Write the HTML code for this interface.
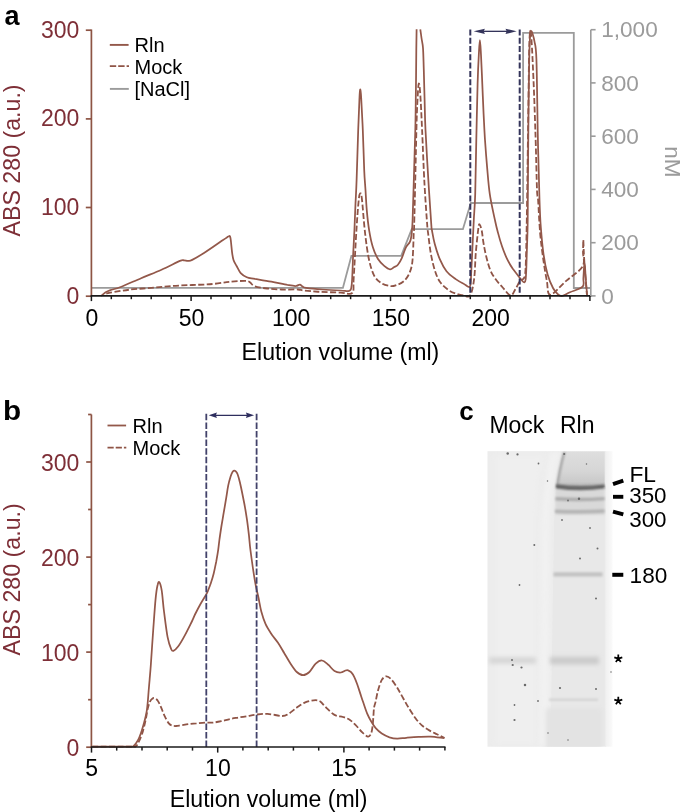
<!DOCTYPE html>
<html><head><meta charset="utf-8"><style>
html,body{margin:0;padding:0;background:#fff;width:685px;height:812px;overflow:hidden}
body{position:relative;font-family:"Liberation Sans", sans-serif}
</style></head><body>
<svg width="685" height="812" viewBox="0 0 685 812" style="position:absolute;left:0;top:0;will-change:transform">
<text x="4.5" y="24.5" font-family='"Liberation Sans", sans-serif' font-weight="bold" font-size="27" fill="#000">a</text>
<polyline points="91.4,287.9 342.9,287.9 351.4,255.9 401.2,255.9 411.7,229.2 462.9,229.2 470.8,203.0 523.1,203.0 523.1,32.8 573.8,32.8 573.8,288.0 590.8,288.0" fill="none" stroke="#9b9b9b" stroke-width="1.8" stroke-linejoin="miter"/>
<path d="M106.3,293.6 C107.0,293.4 106.3,293.3 110.4,292.6 C114.5,291.9 124.1,290.3 130.9,289.5 C137.7,288.7 144.5,288.5 151.3,287.9 C158.1,287.3 164.9,286.5 171.7,286.0 C178.5,285.5 185.4,285.3 192.2,285.0 C199.0,284.7 206.2,284.6 212.6,284.0 C219.0,283.4 224.9,282.2 230.4,281.7 C235.9,281.2 242.6,280.8 245.8,280.9 C249.1,281.0 248.4,281.4 249.9,282.3 C251.4,283.2 252.1,285.4 255.0,286.4 C257.9,287.4 262.8,288.0 267.2,288.5 C271.6,289.0 276.4,289.3 281.5,289.5 C286.6,289.7 294.1,289.3 297.9,289.5 C301.6,289.7 300.2,290.1 304.0,290.5 C307.8,290.9 314.3,291.5 320.4,291.9 C326.5,292.2 335.5,292.4 340.8,292.6 C346.1,292.8 350.2,295.3 352.3,292.9 C354.4,290.5 353.0,288.4 353.7,278.0 C354.4,267.6 355.6,243.0 356.4,230.6 C357.2,218.2 357.8,209.6 358.4,203.5 C359.0,197.4 359.2,195.0 359.8,194.1 C360.4,193.2 361.0,192.0 361.8,198.1 C362.6,204.2 363.7,220.7 364.8,230.6 C365.9,240.5 367.1,250.2 368.6,257.7 C370.1,265.1 371.8,271.0 374.0,275.3 C376.2,279.6 379.0,281.6 381.8,283.4 C384.6,285.2 388.4,285.8 390.9,286.1 C393.4,286.4 394.6,285.7 396.6,285.0 C398.6,284.3 401.1,283.4 403.1,281.8 C405.1,280.2 407.0,277.8 408.4,275.2 C409.8,272.6 410.9,269.7 411.7,266.0 C412.5,262.3 412.7,258.3 413.0,252.8 C413.3,247.3 413.5,238.6 413.7,233.1 C413.9,227.6 413.9,237.2 414.3,220.0 C414.8,202.8 415.9,150.0 416.4,130.0 C416.9,110.0 417.1,107.7 417.5,100.0 C417.9,92.3 418.3,84.4 418.8,83.6 C419.3,82.8 419.8,87.3 420.3,95.0 C420.9,102.7 421.4,115.1 422.1,130.0 C422.8,144.9 423.6,168.4 424.5,184.2 C425.4,200.0 426.6,216.7 427.2,224.8 C427.8,233.0 427.5,228.4 428.1,233.1 C428.7,237.8 429.6,246.7 430.7,252.8 C431.8,258.9 433.2,265.1 434.7,269.9 C436.2,274.7 437.7,278.5 439.9,281.8 C442.1,285.1 445.2,287.6 447.8,289.6 C450.4,291.6 453.1,292.6 455.7,293.6 C458.3,294.6 461.2,295.2 463.6,295.5 C466.0,295.8 468.4,298.2 470.1,295.5 C471.9,292.8 473.2,286.2 474.1,279.1 C475.1,272.0 475.1,261.3 475.8,252.8 C476.5,244.3 477.8,232.6 478.4,227.9 C479.0,223.2 479.1,224.2 479.7,224.6 C480.2,225.0 481.0,227.3 481.7,230.5 C482.4,233.7 482.8,239.3 483.6,243.7 C484.4,248.1 485.2,252.4 486.3,256.8 C487.4,261.2 488.7,266.2 490.2,269.9 C491.7,273.6 493.3,276.0 495.5,279.1 C497.7,282.2 500.9,285.6 503.4,288.3 C505.9,291.0 508.6,295.3 510.6,295.5 C512.6,295.7 513.6,292.1 515.2,289.6 C516.8,287.1 519.1,282.1 520.4,280.4 C521.7,278.6 522.2,280.8 523.1,279.1 C524.0,277.4 524.9,279.9 525.5,270.0 C526.1,260.1 526.4,242.5 526.8,220.0 C527.2,197.5 527.6,161.7 528.0,135.0 C528.4,108.3 528.7,77.2 529.0,60.0 C529.3,42.8 529.6,35.3 530.0,32.0 C530.4,28.7 530.9,32.0 531.5,40.0 C532.1,48.0 532.8,64.2 533.5,80.0 C534.2,95.8 534.9,116.7 535.5,135.0 C536.1,153.3 536.6,179.2 537.0,190.0 C537.4,200.8 537.6,192.7 538.1,200.0 C538.6,207.3 539.3,223.7 540.2,233.8 C541.1,244.0 542.4,253.0 543.5,260.9 C544.6,268.8 545.8,275.5 546.9,281.2 C548.0,286.9 547.0,294.9 550.3,294.8 C553.6,294.7 561.1,285.3 566.5,280.6 C571.9,275.9 579.9,271.3 582.6,266.5 C585.4,261.7 582.9,256.4 583.0,252.0 C583.1,247.6 583.2,240.0 583.3,240.0 C583.4,240.0 583.6,247.7 583.8,252.0 C584.0,256.3 584.3,261.2 584.6,266.0 C584.9,270.8 585.4,276.2 585.8,281.0 C586.2,285.8 586.7,292.5 586.9,294.8" fill="none" stroke="#8f5446" stroke-width="1.8" stroke-dasharray="6,2.4" stroke-linejoin="round"/>
<path d="M101.2,296.0 C101.9,295.4 103.8,293.6 105.3,292.6 C106.8,291.6 107.8,291.0 110.4,290.1 C113.0,289.2 115.6,289.0 120.7,287.0 C125.8,285.0 134.3,281.1 141.1,278.2 C147.9,275.3 155.0,272.6 161.5,269.7 C168.0,266.8 176.2,262.5 179.9,260.9 C183.7,259.3 182.6,260.3 184.0,260.3 C185.4,260.3 186.7,261.0 188.1,260.9 C189.5,260.8 189.5,261.3 192.2,259.9 C194.9,258.5 199.6,255.8 204.4,252.7 C209.2,249.6 217.1,244.1 220.8,241.5 C224.6,238.9 225.6,238.2 226.9,237.4 C228.2,236.6 228.0,236.4 228.6,236.4 C229.2,236.4 229.8,234.9 230.4,237.6 C231.0,240.3 231.6,249.0 232.1,252.7 C232.6,256.4 232.8,257.7 233.5,259.9 C234.2,262.1 235.4,263.8 236.6,266.0 C237.8,268.2 239.0,271.2 240.7,273.1 C242.4,275.0 244.4,276.2 246.8,277.2 C249.2,278.2 250.9,278.1 255.0,278.9 C259.1,279.6 265.9,280.7 271.3,281.7 C276.8,282.7 283.6,284.3 287.7,285.0 C291.8,285.7 293.8,286.1 295.8,286.0 C297.8,285.9 298.8,284.5 299.9,284.6 C301.0,284.7 301.4,285.8 302.4,286.4 C303.4,286.9 302.8,287.4 306.1,287.9 C309.4,288.4 316.6,289.1 322.4,289.5 C328.2,289.9 336.4,290.3 340.8,290.5 C345.2,290.7 347.2,291.8 349.0,290.9 C350.8,289.9 351.0,290.3 351.7,284.8 C352.4,279.3 352.6,266.7 353.0,257.7 C353.4,248.7 354.0,239.6 354.4,230.6 C354.8,221.6 355.1,211.9 355.5,203.5 C355.9,195.1 356.2,192.2 356.6,180.0 C357.1,167.8 357.7,143.3 358.2,130.0 C358.7,116.7 359.1,106.8 359.4,100.0 C359.7,93.2 359.8,89.8 360.1,89.5 C360.4,89.2 360.8,91.2 361.2,98.0 C361.6,104.8 362.3,118.0 362.8,130.0 C363.3,142.0 363.8,160.0 364.2,170.0 C364.6,180.0 365.1,183.3 365.5,190.0 C365.9,196.7 366.2,203.5 366.8,210.3 C367.4,217.1 368.2,224.5 369.2,230.6 C370.2,236.7 371.3,242.2 372.8,246.9 C374.3,251.6 376.1,255.8 378.0,259.0 C379.9,262.1 382.2,264.1 384.2,265.8 C386.2,267.5 388.4,269.1 390.0,269.3 C391.6,269.6 392.6,268.1 393.9,267.3 C395.2,266.5 396.6,266.2 397.9,264.7 C399.2,263.2 400.5,261.0 401.8,258.1 C403.1,255.3 404.5,250.2 405.8,247.6 C407.1,245.0 408.8,243.9 409.7,242.3 C410.6,240.7 410.7,239.5 411.0,238.0 C411.3,236.5 411.4,236.1 411.7,233.1 C412.0,230.1 412.3,228.2 412.6,220.0 C412.9,211.8 413.2,199.2 413.7,184.2 C414.1,169.2 414.9,145.7 415.3,130.0 C415.7,114.3 415.7,103.3 415.9,90.0 C416.1,76.7 416.2,60.1 416.3,50.0 C416.4,39.9 416.6,32.8 416.6,29.3" fill="none" stroke="#93584a" stroke-width="1.75" stroke-linejoin="round"/>
<path d="M420.3,29.3 C420.5,30.8 421.1,34.9 421.5,38.0 C421.9,41.1 422.6,42.7 423.0,48.0 C423.4,53.3 423.5,61.3 423.8,70.0 C424.1,78.7 424.3,90.0 424.6,100.0 C424.9,110.0 424.8,116.0 425.5,130.0 C426.2,144.0 427.6,168.4 428.6,184.2 C429.6,200.0 430.7,217.1 431.3,224.8 C431.9,232.5 431.4,227.3 432.0,230.5 C432.6,233.7 433.4,238.9 434.7,243.7 C436.0,248.5 437.9,254.8 439.9,259.4 C441.9,264.0 443.9,267.9 446.5,271.2 C449.1,274.5 452.8,277.0 455.7,279.1 C458.6,281.2 461.2,282.5 463.6,283.7 C466.0,284.9 468.6,288.2 469.9,286.4 C471.2,284.5 470.8,279.3 471.2,272.6 C471.6,265.9 472.1,255.1 472.5,246.3 C472.9,237.5 473.4,228.7 473.8,220.0 C474.2,211.3 474.8,207.5 475.2,194.2 C475.6,180.9 475.9,158.4 476.3,140.0 C476.7,121.6 477.2,98.2 477.6,84.0 C478.0,69.8 478.4,62.3 478.8,55.0 C479.2,47.7 479.5,40.2 479.9,40.2 C480.3,40.2 480.6,47.7 481.0,55.0 C481.4,62.3 481.9,74.2 482.3,84.0 C482.7,93.8 483.2,104.7 483.6,114.0 C484.1,123.3 484.4,131.2 485.0,140.0 C485.6,148.8 486.3,158.1 487.1,167.1 C487.9,176.1 488.5,185.2 489.8,194.2 C491.1,203.2 493.8,214.7 495.2,221.2 C496.6,227.7 497.0,228.9 498.1,233.1 C499.2,237.3 500.5,241.9 502.0,246.3 C503.5,250.7 505.5,255.7 507.3,259.4 C509.1,263.1 510.9,266.0 512.6,268.6 C514.4,271.2 516.3,273.2 517.8,275.2 C519.3,277.2 520.7,279.2 521.8,280.4 C522.9,281.6 523.8,282.6 524.4,282.4 C525.0,282.2 525.4,281.8 525.7,279.1 C526.0,276.4 526.2,271.5 526.4,266.0 C526.6,260.5 526.8,254.0 527.0,246.3 C527.2,238.6 527.5,238.6 527.7,220.0 C527.9,201.4 528.0,161.7 528.3,135.0 C528.5,108.3 528.9,77.4 529.2,60.0 C529.5,42.6 530.1,35.3 530.3,30.4" fill="none" stroke="#93584a" stroke-width="1.75" stroke-linejoin="round"/>
<path d="M531.5,31.0 C531.6,31.4 531.8,31.4 532.3,33.1 C532.8,34.8 533.7,36.9 534.4,41.2 C535.1,45.5 535.8,43.2 536.4,58.8 C537.0,74.4 537.3,111.5 537.8,135.0 C538.3,158.5 539.0,184.7 539.5,200.0 C540.0,215.3 540.1,218.1 540.8,227.1 C541.5,236.1 542.4,246.3 543.5,254.2 C544.6,262.1 546.0,268.9 547.6,274.5 C549.2,280.1 551.2,284.6 553.0,288.0 C554.8,291.4 556.8,293.5 558.4,294.8 C560.0,296.1 560.6,296.3 562.5,295.9 C564.4,295.5 566.6,293.7 570.0,292.2 C573.4,290.7 580.4,289.1 582.6,286.7 C584.8,284.3 583.1,281.9 583.4,278.0 C583.7,274.1 584.1,263.8 584.5,263.5 C584.9,263.2 585.3,272.1 585.6,276.0 C585.9,279.9 586.1,283.6 586.4,287.0 C586.7,290.4 587.1,294.7 587.2,296.2" fill="none" stroke="#93584a" stroke-width="1.75" stroke-linejoin="round"/>
<path d="M530.3,30.4 L531.5,31" fill="none" stroke="#93584a" stroke-width="1.6"/>
<line x1="470.3" y1="29.4" x2="470.3" y2="296" stroke="#34345a" stroke-width="2.0" stroke-dasharray="6,2.3"/>
<line x1="519.7" y1="29.4" x2="519.7" y2="296" stroke="#34345a" stroke-width="2.0" stroke-dasharray="6,2.3"/>
<line x1="483.2" y1="31.35" x2="507.20000000000005" y2="31.35" stroke="#34345a" stroke-width="1.35"/><polygon points="473.7,31.35 484.9,28.650000000000002 483.7,31.35 484.9,34.050000000000004" fill="#34345a"/><polygon points="516.7,31.35 505.50000000000006,28.650000000000002 506.70000000000005,31.35 505.50000000000006,34.050000000000004" fill="#34345a"/>
<line x1="91.4" y1="29.4" x2="91.4" y2="296.2" stroke="#8d5444" stroke-width="1.7"/>
<line x1="85.80000000000001" y1="296.2" x2="91.4" y2="296.2" stroke="#8d5444" stroke-width="1.7"/>
<text x="79.3" y="303.7" text-anchor="end" font-family='"Liberation Sans", sans-serif' font-size="23" fill="#7e2f37">0</text>
<line x1="85.80000000000001" y1="207.5" x2="91.4" y2="207.5" stroke="#8d5444" stroke-width="1.7"/>
<text x="79.3" y="215.0" text-anchor="end" font-family='"Liberation Sans", sans-serif' font-size="23" fill="#7e2f37">100</text>
<line x1="85.80000000000001" y1="118.9" x2="91.4" y2="118.9" stroke="#8d5444" stroke-width="1.7"/>
<text x="79.3" y="126.4" text-anchor="end" font-family='"Liberation Sans", sans-serif' font-size="23" fill="#7e2f37">200</text>
<line x1="85.80000000000001" y1="30.2" x2="91.4" y2="30.2" stroke="#8d5444" stroke-width="1.7"/>
<text x="79.3" y="37.7" text-anchor="end" font-family='"Liberation Sans", sans-serif' font-size="23" fill="#7e2f37">300</text>
<text transform="translate(19.9,236.5) rotate(-90)" font-family='"Liberation Sans", sans-serif' font-size="23.2" fill="#7e2f37">ABS 280 (a.u.)</text>
<line x1="90.60000000000001" y1="295.9" x2="591.5" y2="295.9" stroke="#1a1a1a" stroke-width="1.7"/>
<line x1="91.4" y1="295.9" x2="91.4" y2="301.09999999999997" stroke="#1a1a1a" stroke-width="1.5"/>
<line x1="111.3" y1="295.9" x2="111.3" y2="299.2" stroke="#1a1a1a" stroke-width="1.5"/>
<line x1="131.3" y1="295.9" x2="131.3" y2="299.2" stroke="#1a1a1a" stroke-width="1.5"/>
<line x1="151.2" y1="295.9" x2="151.2" y2="299.2" stroke="#1a1a1a" stroke-width="1.5"/>
<line x1="171.2" y1="295.9" x2="171.2" y2="299.2" stroke="#1a1a1a" stroke-width="1.5"/>
<line x1="191.1" y1="295.9" x2="191.1" y2="301.09999999999997" stroke="#1a1a1a" stroke-width="1.5"/>
<line x1="211.0" y1="295.9" x2="211.0" y2="299.2" stroke="#1a1a1a" stroke-width="1.5"/>
<line x1="231.0" y1="295.9" x2="231.0" y2="299.2" stroke="#1a1a1a" stroke-width="1.5"/>
<line x1="250.9" y1="295.9" x2="250.9" y2="299.2" stroke="#1a1a1a" stroke-width="1.5"/>
<line x1="270.9" y1="295.9" x2="270.9" y2="299.2" stroke="#1a1a1a" stroke-width="1.5"/>
<line x1="290.8" y1="295.9" x2="290.8" y2="301.09999999999997" stroke="#1a1a1a" stroke-width="1.5"/>
<line x1="310.7" y1="295.9" x2="310.7" y2="299.2" stroke="#1a1a1a" stroke-width="1.5"/>
<line x1="330.7" y1="295.9" x2="330.7" y2="299.2" stroke="#1a1a1a" stroke-width="1.5"/>
<line x1="350.6" y1="295.9" x2="350.6" y2="299.2" stroke="#1a1a1a" stroke-width="1.5"/>
<line x1="370.6" y1="295.9" x2="370.6" y2="299.2" stroke="#1a1a1a" stroke-width="1.5"/>
<line x1="390.5" y1="295.9" x2="390.5" y2="301.09999999999997" stroke="#1a1a1a" stroke-width="1.5"/>
<line x1="410.4" y1="295.9" x2="410.4" y2="299.2" stroke="#1a1a1a" stroke-width="1.5"/>
<line x1="430.4" y1="295.9" x2="430.4" y2="299.2" stroke="#1a1a1a" stroke-width="1.5"/>
<line x1="450.3" y1="295.9" x2="450.3" y2="299.2" stroke="#1a1a1a" stroke-width="1.5"/>
<line x1="470.3" y1="295.9" x2="470.3" y2="299.2" stroke="#1a1a1a" stroke-width="1.5"/>
<line x1="490.2" y1="295.9" x2="490.2" y2="301.09999999999997" stroke="#1a1a1a" stroke-width="1.5"/>
<line x1="510.1" y1="295.9" x2="510.1" y2="299.2" stroke="#1a1a1a" stroke-width="1.5"/>
<line x1="530.1" y1="295.9" x2="530.1" y2="299.2" stroke="#1a1a1a" stroke-width="1.5"/>
<line x1="550.0" y1="295.9" x2="550.0" y2="299.2" stroke="#1a1a1a" stroke-width="1.5"/>
<line x1="570.0" y1="295.9" x2="570.0" y2="299.2" stroke="#1a1a1a" stroke-width="1.5"/>
<line x1="589.9" y1="295.9" x2="589.9" y2="301.09999999999997" stroke="#1a1a1a" stroke-width="1.5"/>
<text x="91.8" y="326.0" text-anchor="middle" font-family='"Liberation Sans", sans-serif' font-size="23" fill="#000">0</text>
<text x="191.5" y="326.0" text-anchor="middle" font-family='"Liberation Sans", sans-serif' font-size="23" fill="#000">50</text>
<text x="291.2" y="326.0" text-anchor="middle" font-family='"Liberation Sans", sans-serif' font-size="23" fill="#000">100</text>
<text x="390.9" y="326.0" text-anchor="middle" font-family='"Liberation Sans", sans-serif' font-size="23" fill="#000">150</text>
<text x="490.6" y="326.0" text-anchor="middle" font-family='"Liberation Sans", sans-serif' font-size="23" fill="#000">200</text>
<text x="241.6" y="360.2" font-family='"Liberation Sans", sans-serif' font-size="23.1" fill="#000">Elution volume (ml)</text>
<line x1="590.8" y1="29.7" x2="590.8" y2="295.9" stroke="#9b9b9b" stroke-width="1.6"/>
<line x1="590.8" y1="295.9" x2="595.5999999999999" y2="295.9" stroke="#9b9b9b" stroke-width="1.6"/>
<text x="601.2" y="303.6" font-family='"Liberation Sans", sans-serif' font-size="22.6" fill="#9b9b9b">0</text>
<line x1="590.8" y1="242.7" x2="595.5999999999999" y2="242.7" stroke="#9b9b9b" stroke-width="1.6"/>
<text x="601.2" y="250.4" font-family='"Liberation Sans", sans-serif' font-size="22.6" fill="#9b9b9b">200</text>
<line x1="590.8" y1="189.4" x2="595.5999999999999" y2="189.4" stroke="#9b9b9b" stroke-width="1.6"/>
<text x="601.2" y="197.1" font-family='"Liberation Sans", sans-serif' font-size="22.6" fill="#9b9b9b">400</text>
<line x1="590.8" y1="136.2" x2="595.5999999999999" y2="136.2" stroke="#9b9b9b" stroke-width="1.6"/>
<text x="601.2" y="143.9" font-family='"Liberation Sans", sans-serif' font-size="22.6" fill="#9b9b9b">600</text>
<line x1="590.8" y1="82.9" x2="595.5999999999999" y2="82.9" stroke="#9b9b9b" stroke-width="1.6"/>
<text x="601.2" y="90.6" font-family='"Liberation Sans", sans-serif' font-size="22.6" fill="#9b9b9b">800</text>
<line x1="590.8" y1="29.7" x2="595.5999999999999" y2="29.7" stroke="#9b9b9b" stroke-width="1.6"/>
<text x="601.2" y="37.4" font-family='"Liberation Sans", sans-serif' font-size="22.6" fill="#9b9b9b">1,000</text>
<text transform="translate(665.3,146.2) rotate(90)" font-family='"Liberation Sans", sans-serif' font-size="22.6" fill="#9b9b9b">nM</text>
<line x1="109.8" y1="44.9" x2="128.6" y2="44.9" stroke="#93584a" stroke-width="1.9"/>
<line x1="109.8" y1="66.2" x2="129.0" y2="66.2" stroke="#8f5446" stroke-width="1.8" stroke-dasharray="6.4,2"/>
<line x1="109.9" y1="88.9" x2="128.8" y2="88.9" stroke="#9b9b9b" stroke-width="1.9"/>
<text x="134.5" y="51.6" font-family='"Liberation Sans", sans-serif' font-size="20" fill="#000">Rln</text>
<text x="134.5" y="73.5" font-family='"Liberation Sans", sans-serif' font-size="20" fill="#000">Mock</text>
<text x="134.5" y="95.8" font-family='"Liberation Sans", sans-serif' font-size="20" fill="#000">[NaCl]</text>
<text transform="translate(3.0,420.3) scale(1.1,1)" font-family='"Liberation Sans", sans-serif' font-weight="bold" font-size="27" fill="#000">b</text>
<path d="M92.3,746.6 C98.9,746.6 124.9,746.7 131.9,746.6 C138.9,746.5 133.6,746.4 134.5,746.1 C135.4,745.8 135.8,747.1 137.1,745.0 C138.4,742.9 140.8,737.6 142.2,733.4 C143.6,729.2 144.8,723.9 145.7,719.7 C146.6,715.5 147.1,711.4 147.8,708.4 C148.5,705.4 149.3,703.2 150.0,701.6 C150.7,700.0 151.3,699.6 152.0,699.0 C152.7,698.4 153.3,697.8 154.3,698.1 C155.3,698.4 156.7,699.1 157.8,700.7 C159.0,702.3 160.0,705.0 161.2,707.6 C162.3,710.2 163.4,713.6 164.7,716.2 C166.0,718.8 167.6,721.9 168.8,723.4 C170.0,724.9 170.5,725.1 171.7,725.5 C172.9,725.9 174.3,726.1 176.0,726.0 C177.7,725.9 179.7,725.4 181.9,725.1 C184.1,724.8 186.8,724.4 189.2,724.1 C191.6,723.8 193.8,723.6 196.5,723.4 C199.2,723.1 202.6,722.7 205.3,722.6 C208.0,722.5 209.9,722.8 212.6,722.6 C215.3,722.4 218.4,721.8 221.3,721.2 C224.2,720.6 227.2,719.6 230.1,719.0 C233.0,718.4 235.9,718.0 238.8,717.5 C241.7,717.0 244.7,716.6 247.6,716.1 C250.5,715.6 253.1,715.0 256.4,714.6 C259.7,714.2 263.3,713.7 267.6,713.9 C271.9,714.1 278.7,716.0 282.2,716.0 C285.7,716.0 286.1,715.3 288.5,713.9 C290.9,712.5 294.0,709.5 296.8,707.6 C299.6,705.7 302.4,703.6 305.2,702.4 C308.0,701.2 311.2,700.5 313.6,700.3 C316.1,700.1 317.8,700.1 319.9,701.3 C322.0,702.5 323.7,705.3 326.1,707.6 C328.5,709.9 331.7,713.3 334.5,714.9 C337.3,716.5 340.4,716.2 342.9,717.0 C345.4,717.8 347.5,718.4 349.6,719.7 C351.7,721.1 353.6,723.1 355.7,725.1 C357.8,727.1 359.8,730.1 361.9,732.0 C363.9,733.9 366.5,736.4 368.0,736.6 C369.5,736.9 370.3,735.3 371.1,733.5 C371.9,731.7 372.2,728.6 372.6,725.8 C373.0,723.0 373.1,719.7 373.4,716.6 C373.6,713.5 373.7,710.0 374.1,707.4 C374.5,704.8 375.1,704.1 375.7,701.3 C376.3,698.5 377.0,694.2 378.0,690.6 C379.0,687.0 380.4,682.3 381.8,679.9 C383.2,677.5 384.9,676.4 386.4,676.3 C387.9,676.2 389.2,677.2 391.0,679.1 C392.8,681.0 395.1,684.3 397.1,687.5 C399.1,690.7 401.1,694.6 403.2,698.2 C405.2,701.8 407.3,705.7 409.4,709.0 C411.4,712.3 413.5,715.5 415.5,718.2 C417.5,720.9 419.3,723.1 421.6,725.1 C423.9,727.1 426.7,728.9 429.3,730.4 C431.9,731.9 434.4,733.0 437.0,734.3 C439.6,735.6 443.3,737.5 444.6,738.1" fill="none" stroke="#8f5446" stroke-width="1.8" stroke-dasharray="6,2.4"/>
<path d="M92.3,746.6 C98.9,746.6 125.0,746.7 131.9,746.6 C138.8,746.5 132.9,746.5 133.6,745.9 C134.3,745.3 135.3,744.1 136.2,742.9 C137.1,741.7 137.9,740.5 138.8,738.6 C139.7,736.7 140.5,734.3 141.4,731.7 C142.3,729.1 143.3,725.7 144.0,723.1 C144.7,720.5 145.2,718.5 145.7,716.2 C146.2,713.9 146.7,711.7 147.0,709.3 C147.3,706.9 147.5,704.8 147.8,701.6 C148.1,698.4 148.4,693.9 148.7,690.3 C149.0,686.7 149.2,684.2 149.6,680.0 C149.9,675.8 150.2,673.6 150.8,665.3 C151.4,657.0 152.4,641.1 153.2,630.2 C154.0,619.3 154.8,607.3 155.5,599.8 C156.2,592.3 156.9,587.9 157.6,585.0 C158.2,582.1 158.7,581.3 159.4,582.2 C160.1,583.1 160.9,585.5 161.7,590.4 C162.5,595.3 163.0,603.7 164.0,611.5 C165.0,619.3 166.4,631.0 167.6,637.2 C168.8,643.4 170.1,646.6 171.1,648.9 C172.1,651.2 172.2,651.2 173.4,650.8 C174.6,650.4 176.2,649.2 178.1,646.6 C180.0,644.0 182.8,639.2 185.1,634.9 C187.4,630.6 190.4,624.4 192.1,621.0 C193.8,617.6 193.6,617.3 195.0,614.5 C196.4,611.7 198.7,607.2 200.5,604.0 C202.3,600.8 204.6,597.3 205.8,595.2 C207.0,593.1 207.0,593.2 207.8,591.2 C208.6,589.2 209.8,586.2 210.8,583.3 C211.8,580.3 212.8,577.1 213.7,573.5 C214.6,569.9 215.4,565.6 216.2,561.7 C216.9,557.8 217.7,553.5 218.2,549.9 C218.7,546.3 218.9,543.8 219.4,540.0 C219.9,536.2 220.6,531.6 221.3,527.0 C222.0,522.4 223.0,517.1 223.8,512.2 C224.6,507.3 225.6,501.8 226.3,497.4 C227.0,493.0 227.5,489.1 228.2,485.6 C228.9,482.1 230.0,478.5 230.7,476.2 C231.4,473.9 231.9,472.9 232.5,472.0 C233.1,471.1 233.5,470.7 234.1,470.6 C234.7,470.5 235.2,470.8 235.8,471.4 C236.4,472.0 236.9,472.3 237.6,474.2 C238.3,476.1 239.2,479.3 240.0,482.7 C240.8,486.1 241.7,490.4 242.5,494.5 C243.3,498.6 244.3,503.2 245.0,507.3 C245.7,511.4 246.2,514.5 246.9,519.1 C247.6,523.7 248.3,529.7 248.9,534.9 C249.5,540.1 249.5,542.8 250.5,550.5 C251.5,558.2 253.6,573.1 254.9,580.9 C256.2,588.7 257.3,592.2 258.4,597.3 C259.5,602.4 260.1,607.0 261.3,611.4 C262.5,615.8 263.8,620.1 265.5,623.9 C267.2,627.7 269.6,631.2 271.7,634.4 C273.8,637.5 275.9,639.7 278.0,642.8 C280.1,645.9 282.2,649.7 284.3,653.2 C286.4,656.7 288.5,660.6 290.6,663.7 C292.7,666.8 294.7,670.1 296.8,672.0 C298.9,673.9 301.0,675.2 303.1,675.2 C305.2,675.2 307.3,673.9 309.4,672.0 C311.5,670.1 313.6,665.6 315.7,663.7 C317.8,661.8 319.9,660.3 322.0,660.5 C324.1,660.7 326.1,663.0 328.2,664.7 C330.3,666.5 332.4,669.7 334.5,671.0 C336.6,672.3 339.0,672.6 340.8,672.5 C342.6,672.4 344.3,670.9 345.5,670.5 C346.7,670.1 347.2,670.0 348.1,670.3 C349.0,670.6 350.1,671.1 351.1,672.2 C352.1,673.3 353.2,674.8 354.2,676.8 C355.2,678.8 356.3,681.7 357.3,684.5 C358.3,687.3 359.3,690.6 360.3,693.6 C361.3,696.6 362.2,699.5 363.4,702.8 C364.5,706.1 365.9,710.5 367.2,713.6 C368.5,716.7 369.7,718.8 371.1,721.2 C372.5,723.6 373.9,726.1 375.7,728.1 C377.5,730.1 379.5,732.0 381.8,733.5 C384.1,735.0 386.9,736.4 389.5,737.3 C392.1,738.1 394.3,738.5 397.1,738.6 C399.9,738.7 402.7,738.1 406.3,737.8 C409.9,737.5 414.5,737.1 418.6,736.9 C422.7,736.7 426.6,736.4 430.8,736.6 C435.0,736.8 441.7,737.9 443.9,738.1" fill="none" stroke="#93584a" stroke-width="1.75"/>
<line x1="206.3" y1="413.8" x2="206.3" y2="747" stroke="#42426a" stroke-width="1.8" stroke-dasharray="6.5,2.1"/>
<line x1="256.6" y1="413.8" x2="256.6" y2="747" stroke="#42426a" stroke-width="1.8" stroke-dasharray="6.5,2.1"/>
<line x1="215.39999999999998" y1="415.35" x2="247.4" y2="415.35" stroke="#2e2e5e" stroke-width="1.35"/>
<polygon points="208.7,415.35 216.89999999999998,412.6 215.89999999999998,415.35 216.89999999999998,418.1" fill="#2e2e5e"/>
<polygon points="254.1,415.35 245.9,412.6 246.9,415.35 245.9,418.1" fill="#2e2e5e"/>
<line x1="91.4" y1="414.5" x2="91.4" y2="747.2" stroke="#8d5444" stroke-width="1.7"/>
<line x1="86.2" y1="747.2" x2="91.5" y2="747.2" stroke="#8d5444" stroke-width="1.7"/>
<text x="79.4" y="755.8" text-anchor="end" font-family='"Liberation Sans", sans-serif' font-size="23" fill="#7e2f37">0</text>
<line x1="88.1" y1="699.7" x2="91.5" y2="699.7" stroke="#8d5444" stroke-width="1.7"/>
<line x1="86.2" y1="652.1" x2="91.5" y2="652.1" stroke="#8d5444" stroke-width="1.7"/>
<text x="79.4" y="660.7" text-anchor="end" font-family='"Liberation Sans", sans-serif' font-size="23" fill="#7e2f37">100</text>
<line x1="88.1" y1="604.6" x2="91.5" y2="604.6" stroke="#8d5444" stroke-width="1.7"/>
<line x1="86.2" y1="557.1" x2="91.5" y2="557.1" stroke="#8d5444" stroke-width="1.7"/>
<text x="79.4" y="565.7" text-anchor="end" font-family='"Liberation Sans", sans-serif' font-size="23" fill="#7e2f37">200</text>
<line x1="88.1" y1="509.5" x2="91.5" y2="509.5" stroke="#8d5444" stroke-width="1.7"/>
<line x1="86.2" y1="462.0" x2="91.5" y2="462.0" stroke="#8d5444" stroke-width="1.7"/>
<text x="79.4" y="470.6" text-anchor="end" font-family='"Liberation Sans", sans-serif' font-size="23" fill="#7e2f37">300</text>
<line x1="88.1" y1="414.5" x2="91.5" y2="414.5" stroke="#8d5444" stroke-width="1.7"/>
<text transform="translate(19.9,655.4) rotate(-90)" font-family='"Liberation Sans", sans-serif' font-size="23.2" fill="#7e2f37">ABS 280 (a.u.)</text>
<line x1="90.7" y1="747.0" x2="445.5" y2="747.0" stroke="#1a1a1a" stroke-width="1.6"/>
<line x1="91.5" y1="747.0" x2="91.5" y2="752.6" stroke="#1a1a1a" stroke-width="1.5"/>
<line x1="116.7" y1="747.0" x2="116.7" y2="750.6" stroke="#1a1a1a" stroke-width="1.5"/>
<line x1="142.0" y1="747.0" x2="142.0" y2="750.6" stroke="#1a1a1a" stroke-width="1.5"/>
<line x1="167.2" y1="747.0" x2="167.2" y2="750.6" stroke="#1a1a1a" stroke-width="1.5"/>
<line x1="192.5" y1="747.0" x2="192.5" y2="750.6" stroke="#1a1a1a" stroke-width="1.5"/>
<line x1="217.7" y1="747.0" x2="217.7" y2="752.6" stroke="#1a1a1a" stroke-width="1.5"/>
<line x1="242.9" y1="747.0" x2="242.9" y2="750.6" stroke="#1a1a1a" stroke-width="1.5"/>
<line x1="268.2" y1="747.0" x2="268.2" y2="750.6" stroke="#1a1a1a" stroke-width="1.5"/>
<line x1="293.4" y1="747.0" x2="293.4" y2="750.6" stroke="#1a1a1a" stroke-width="1.5"/>
<line x1="318.7" y1="747.0" x2="318.7" y2="750.6" stroke="#1a1a1a" stroke-width="1.5"/>
<line x1="343.9" y1="747.0" x2="343.9" y2="752.6" stroke="#1a1a1a" stroke-width="1.5"/>
<line x1="369.1" y1="747.0" x2="369.1" y2="750.6" stroke="#1a1a1a" stroke-width="1.5"/>
<line x1="394.4" y1="747.0" x2="394.4" y2="750.6" stroke="#1a1a1a" stroke-width="1.5"/>
<line x1="419.6" y1="747.0" x2="419.6" y2="750.6" stroke="#1a1a1a" stroke-width="1.5"/>
<line x1="444.9" y1="747.0" x2="444.9" y2="750.6" stroke="#1a1a1a" stroke-width="1.5"/>
<text x="91.7" y="775.8" text-anchor="middle" font-family='"Liberation Sans", sans-serif' font-size="23" fill="#000">5</text>
<text x="217.9" y="775.8" text-anchor="middle" font-family='"Liberation Sans", sans-serif' font-size="23" fill="#000">10</text>
<text x="344.1" y="775.8" text-anchor="middle" font-family='"Liberation Sans", sans-serif' font-size="23" fill="#000">15</text>
<text x="169.8" y="806.7" font-family='"Liberation Sans", sans-serif' font-size="23.1" fill="#000">Elution volume (ml)</text>
<line x1="107.5" y1="425.5" x2="126.1" y2="425.5" stroke="#93584a" stroke-width="1.8"/>
<line x1="107.5" y1="447.6" x2="126.3" y2="447.6" stroke="#8f5446" stroke-width="1.8" stroke-dasharray="6.2,2"/>
<text x="132.5" y="432.5" font-family='"Liberation Sans", sans-serif' font-size="20" fill="#000">Rln</text>
<text x="132.5" y="454.5" font-family='"Liberation Sans", sans-serif' font-size="20" fill="#000">Mock</text>
<text x="459.2" y="420.2" font-family='"Liberation Sans", sans-serif' font-weight="bold" font-size="26" fill="#000">c</text>
<defs>
<filter id="bl1" filterUnits="userSpaceOnUse" x="470" y="440" width="160" height="320"><feGaussianBlur stdDeviation="1.1"/></filter>
<filter id="bl2" filterUnits="userSpaceOnUse" x="470" y="440" width="160" height="320"><feGaussianBlur stdDeviation="2"/></filter>
<filter id="bl05" filterUnits="userSpaceOnUse" x="470" y="440" width="160" height="320"><feGaussianBlur stdDeviation="0.7"/></filter>
<filter id="bl3" filterUnits="userSpaceOnUse" x="470" y="440" width="160" height="320"><feGaussianBlur stdDeviation="3"/></filter>
<linearGradient id="smear" x1="0" y1="0" x2="0" y2="1">
<stop offset="0" stop-color="#dedede"/><stop offset="0.55" stop-color="#d6d6d6"/><stop offset="0.85" stop-color="#cacaca"/><stop offset="1" stop-color="#b0b0b0"/>
</linearGradient>
<linearGradient id="rstrip" x1="0" y1="0" x2="1" y2="0">
<stop offset="0" stop-color="#f0f0f0"/><stop offset="1" stop-color="#fafafa"/>
</linearGradient>
<clipPath id="gelclip"><rect x="487.5" y="451.2" width="118.5" height="295.5"/></clipPath>
</defs>
<rect x="487.5" y="451.2" width="118.5" height="295.5" fill="#ececec"/>
<rect x="605.5" y="451.2" width="7" height="295.5" fill="url(#rstrip)"/>
<g clip-path="url(#gelclip)">
<path d="M494,455 L546,455 C540,470 537,490 537,520 L537,745 L494,745 Z" fill="#efefef" filter="url(#bl3)"/>
<path d="M550,452 C546,470 543,490 541,520 L539,746 L549,746 L550,520 C551,495 555,470 561,452 Z" fill="#f1f1f1" filter="url(#bl2)"/>
<path d="M563.5,451.6 C560,465 557.5,478 556.4,486.6 C555.3,500 554.5,510 554.2,520 L550.5,746 L604.6,746 L604.6,451.6 Z" fill="#e8e8e8" filter="url(#bl05)"/>
<path d="M563.5,451.6 C560,465 557.5,478 556.4,487 L604.6,487 L604.6,451.6 Z" fill="url(#smear)" filter="url(#bl05)"/>
<path d="M564.3,452 C560.8,465 558.3,478 557.1,487" fill="none" stroke="#a8a8a8" stroke-width="2.6" filter="url(#bl1)"/>
<rect x="555.5" y="489" width="49" height="26" fill="#d9d9d9" filter="url(#bl1)"/>
<g filter="url(#bl1)">
<path d="M556,486.3 Q580,490 604.5,486.5" fill="none" stroke="#636363" stroke-width="4.2"/>
<path d="M555.5,498.8 Q580,500.3 604.5,498.6" fill="none" stroke="#acacac" stroke-width="3.4"/>
<path d="M555,511.2 Q580,512.3 604.5,511" fill="none" stroke="#b3b3b3" stroke-width="3.6"/>
<rect x="553.5" y="572.3" width="49" height="4.2" fill="#c2c2c2"/>
<rect x="549" y="698.6" width="49" height="2.2" fill="#d2d2d2"/>
</g>
<g filter="url(#bl2)">
<rect x="489" y="657.2" width="47" height="6.5" fill="#d6d6d6"/>
<rect x="550" y="656.8" width="49" height="7.5" fill="#cacaca"/>
<rect x="546" y="708" width="56" height="45" fill="#e3e3e3"/>
</g>
</g>
<g filter="url(#bl05)">
<circle cx="507.7" cy="453.5" r="1.25" fill="#6a6a6a"/>
<circle cx="517.5" cy="454.4" r="1.12" fill="#6a6a6a"/>
<circle cx="538.5" cy="463.5" r="0.88" fill="#6a6a6a"/>
<circle cx="564.2" cy="454" r="1.12" fill="#6a6a6a"/>
<circle cx="586.5" cy="464" r="0.75" fill="#6a6a6a"/>
<circle cx="579" cy="498.7" r="1.25" fill="#6a6a6a"/>
<circle cx="568" cy="500.5" r="0.88" fill="#6a6a6a"/>
<circle cx="547.5" cy="481" r="0.75" fill="#6a6a6a"/>
<circle cx="562" cy="520" r="0.88" fill="#6a6a6a"/>
<circle cx="590" cy="528" r="0.88" fill="#6a6a6a"/>
<circle cx="534.3" cy="545" r="1.00" fill="#6a6a6a"/>
<circle cx="580" cy="558.5" r="1.00" fill="#6a6a6a"/>
<circle cx="597.5" cy="548.5" r="1.00" fill="#6a6a6a"/>
<circle cx="519.5" cy="585" r="0.88" fill="#6a6a6a"/>
<circle cx="596" cy="598.5" r="1.00" fill="#6a6a6a"/>
<circle cx="512.7" cy="665" r="1.12" fill="#6a6a6a"/>
<circle cx="521.5" cy="667.5" r="1.12" fill="#6a6a6a"/>
<circle cx="525" cy="685" r="1.25" fill="#6a6a6a"/>
<circle cx="560" cy="688" r="1.12" fill="#6a6a6a"/>
<circle cx="596" cy="689" r="1.00" fill="#6a6a6a"/>
<circle cx="538" cy="701" r="0.88" fill="#6a6a6a"/>
<circle cx="514.5" cy="705" r="0.88" fill="#6a6a6a"/>
<circle cx="514.5" cy="720" r="1.12" fill="#6a6a6a"/>
<circle cx="548" cy="733" r="0.75" fill="#6a6a6a"/>
<circle cx="512" cy="660" r="1.00" fill="#6a6a6a"/>
<circle cx="568" cy="740" r="0.75" fill="#6a6a6a"/>
<circle cx="611" cy="672" r="0.75" fill="#6a6a6a"/>
</g>
<path d="M613,484.2 L623.3,480.6" stroke="#000" stroke-width="3.9"/>
<path d="M613,496.8 L623.3,496.8" stroke="#000" stroke-width="3.9"/>
<path d="M613,511.6 L623.3,514.4" stroke="#000" stroke-width="3.9"/>
<path d="M612.3,574.8 L623.3,574.8" stroke="#000" stroke-width="4"/>
<text x="629.4" y="481.6" text-anchor="start" font-family='"Liberation Sans", sans-serif' font-size="22.8" fill="#000">FL</text>
<text x="629.2" y="503.3" text-anchor="start" font-family='"Liberation Sans", sans-serif' font-size="22.4" fill="#000">350</text>
<text x="629.2" y="526.5" text-anchor="start" font-family='"Liberation Sans", sans-serif' font-size="22.4" fill="#000">300</text>
<text x="629.6" y="583.4" text-anchor="start" font-family='"Liberation Sans", sans-serif' font-size="22.6" fill="#000">180</text>
<text x="489.4" y="432.8" text-anchor="start" font-family='"Liberation Sans", sans-serif' font-size="23" fill="#000">Mock</text>
<text x="560.0" y="432.8" text-anchor="start" font-family='"Liberation Sans", sans-serif' font-size="23" fill="#000">Rln</text>
<path d="M618.30,658.60 L618.30,654.40 M618.30,658.60 L622.29,657.30 M618.30,658.60 L620.77,662.00 M618.30,658.60 L615.83,662.00 M618.30,658.60 L614.31,657.30 " stroke="#000" stroke-width="1.75" stroke-linecap="butt"/>
<path d="M618.30,700.90 L618.30,696.70 M618.30,700.90 L622.29,699.60 M618.30,700.90 L620.77,704.30 M618.30,700.90 L615.83,704.30 M618.30,700.90 L614.31,699.60 " stroke="#000" stroke-width="1.75" stroke-linecap="butt"/>
</svg>
</body></html>
